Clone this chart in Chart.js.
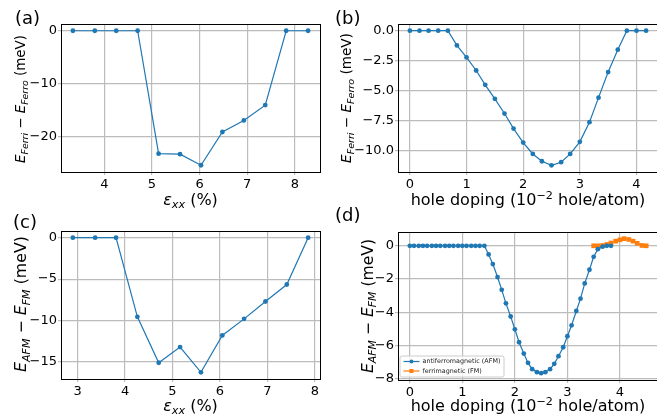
<!DOCTYPE html>
<html>
<head>
<meta charset="utf-8">
<script src="https://cdn.jsdelivr.net/npm/chart.js@4.4.1/dist/chart.umd.min.js"></script>
<style>
  html, body { margin: 0; padding: 0; background: #fff; width: 657px; height: 418px; overflow: hidden; }
  canvas { position: absolute; left: 0; top: 0; }
</style>
</head>
<body>
<canvas id="chartA" width="657" height="418"></canvas>
<canvas id="chartB" width="700" height="418"></canvas>
<canvas id="chartC" width="657" height="418"></canvas>
<canvas id="chartD" width="700" height="418"></canvas>
<script>
// (a) strain, ferri - ferro
const strainA = [3.34, 3.80, 4.25, 4.70, 5.14, 5.59, 6.03, 6.48, 6.93, 7.38, 7.82, 8.28];
const energyA = [0, 0, 0, 0, -23.3, -23.4, -25.5, -19.2, -17.0, -14.1, 0, 0];
const ticksAx = [4, 5, 6, 7, 8];
const ticksAy = [0, -10, -20];

// (b) hole doping, ferri - ferro
const dopingB = [0, 0.17, 0.33, 0.5, 0.67, 0.83, 1.0, 1.17, 1.33, 1.5, 1.67, 1.83, 2.0,
                 2.17, 2.33, 2.5, 2.67, 2.83, 3.0, 3.17, 3.33, 3.5, 3.67, 3.83, 4.0, 4.17];
const energyB = [0, 0, 0, 0, 0, -1.23, -2.24, -3.33, -4.53, -5.7, -6.93, -8.19, -9.36,
                 -10.31, -10.92, -11.26, -11.0, -10.31, -9.3, -7.65, -5.6, -3.46, -1.59, 0, 0, 0];
const ticksBx = [0, 1, 2, 3, 4];
const ticksBy = [0, -2.5, -5, -7.5, -10];

// (c) strain, AFM - FM
const strainC = [2.90, 3.37, 3.81, 4.26, 4.71, 5.16, 5.60, 6.05, 6.51, 6.96, 7.41, 7.86];
const energyC = [0, 0, 0, -9.55, -15.1, -13.2, -16.25, -11.8, -9.8, -7.7, -5.65, 0];
const ticksCx = [3, 4, 5, 6, 7, 8];
const ticksCy = [0, -5, -10, -15];

// (d) hole doping, AFM - FM and ferri
const dopingAFM = [0, 0.08, 0.17, 0.25, 0.33, 0.42, 0.5, 0.58, 0.67, 0.75, 0.83, 0.92, 1.0,
                   1.08, 1.17, 1.25, 1.33, 1.42, 1.5, 1.58, 1.67, 1.75, 1.83, 1.92, 2.0,
                   2.08, 2.17, 2.25, 2.33, 2.42, 2.5, 2.58, 2.67, 2.75, 2.83, 2.92, 3.0,
                   3.08, 3.17, 3.25, 3.33, 3.42, 3.5, 3.58, 3.67, 3.75, 3.83];
const energyAFM = [0, 0, 0, 0, 0, 0, 0, 0, 0, 0, 0, 0, 0, 0, 0, 0, 0, 0,
                   -0.52, -1.1, -1.88, -2.65, -3.46, -4.25, -5.02, -5.8, -6.48, -7.04, -7.42,
                   -7.6, -7.66, -7.6, -7.42, -7.1, -6.64, -6.1, -5.44, -4.78, -3.92, -3.18,
                   -2.26, -1.44, -0.66, -0.2, -0.05, 0, 0];
const dopingFM = [3.5, 3.58, 3.67, 3.75, 3.83, 3.92, 4.0, 4.08, 4.17, 4.25, 4.33, 4.42, 4.5];
const energyFM = [0, 0, 0.02, 0.08, 0.17, 0.28, 0.36, 0.43, 0.38, 0.28, 0.15, 0.02, 0];
const ticksDx = [0, 1, 2, 3, 4];
const ticksDy = [0, -2, -4, -6, -8];
const legendD = ['antiferromagnetic (AFM)', 'ferrimagnetic (FM)'];

const FONT = '"DejaVu Sans", sans-serif';
const BLUE = '#1f77b4';
const ORANGE = '#ff7f0e';
const GRID = '#bcbcbc';

function fmt(dec) {
    return v => (v < 0 ? '\u2212' : '') + Math.abs(v).toFixed(dec);
}

function pts(xs, ys) {
    return xs.map((x, i) => ({x: x, y: ys[i]}));
}

// draws text made of pieces (subscripts / superscripts), centred on x,y
function richText(ctx, segs, x, y, rotate, base) {
    const k = base / 16;
    const parts = segs.map(s => {
        const size = base * (s.s || 1);
        const font = (s.i ? 'italic ' : '') + size + 'px ' + FONT;
        ctx.font = font;
        return {t: s.t, font: font, w: ctx.measureText(s.t).width, dy: (s.dy || 0) * k};
    });
    const total = parts.reduce((a, p) => a + p.w, 0);
    ctx.save();
    ctx.translate(x, y);
    if (rotate) ctx.rotate(-Math.PI / 2);
    ctx.fillStyle = '#000';
    ctx.textBaseline = 'alphabetic';
    ctx.textAlign = 'left';
    let cx = -total / 2;
    parts.forEach(p => {
        ctx.font = p.font;
        ctx.fillText(p.t, cx, p.dy);
        cx += p.w;
    });
    ctx.restore();
}

const titleFerri = [{t: 'E', i: 1}, {t: 'Ferri', i: 1, s: 0.7, dy: 3.5}, {t: ' \u2212 '},
                    {t: 'E', i: 1}, {t: 'Ferro', i: 1, s: 0.7, dy: 3.5}, {t: ' (meV)'}];
const titleAFM = [{t: 'E', i: 1}, {t: 'AFM', i: 1, s: 0.7, dy: 3.5}, {t: ' \u2212 '},
                  {t: 'E', i: 1}, {t: 'FM', i: 1, s: 0.7, dy: 3.5}, {t: ' (meV)'}];
const titleStrain = [{t: '\u03b5', i: 1}, {t: 'xx', i: 1, s: 0.7, dy: 3.5}, {t: ' (%)'}];
const titleDoping = [{t: 'hole doping (10'}, {t: '\u22122', s: 0.7, dy: -6.5}, {t: ' hole/atom)'}];

const decorPlugin = {
    id: 'decor',
    afterDatasetsDraw(chart, args, opts) {
        const ctx = chart.ctx;
        const a = chart.chartArea;
        ctx.save();
        ctx.strokeStyle = '#000';
        ctx.lineWidth = 1;
        ctx.strokeRect(Math.round(a.left) + 0.5, Math.round(a.top) + 0.5,
                       Math.round(a.right - a.left), Math.round(a.bottom - a.top));
        ctx.restore();

        richText(ctx, opts.xTitle, opts.xTitlePos[0], opts.xTitlePos[1], false, 16);
        richText(ctx, opts.yTitle, opts.yTitlePos[0], opts.yTitlePos[1], true, opts.ySize);

        ctx.save();
        ctx.font = '18px ' + FONT;
        ctx.fillStyle = '#000';
        ctx.textBaseline = 'alphabetic';
        ctx.fillText(opts.label, opts.labelPos[0], opts.labelPos[1]);
        ctx.restore();

        if (opts.legend) {
            const lg = opts.legend;
            ctx.save();
            ctx.fillStyle = 'rgba(255,255,255,0.8)';
            ctx.strokeStyle = '#cccccc';
            ctx.lineWidth = 1;
            ctx.beginPath();
            ctx.roundRect(lg.x + 0.5, lg.y + 0.5, lg.w, lg.h, 2);
            ctx.fill();
            ctx.stroke();
            chart.data.datasets.forEach((ds, i) => {
                const yy = lg.y + 6 + i * 9.5;
                ctx.strokeStyle = ds.borderColor;
                ctx.lineWidth = 1.2;
                ctx.beginPath();
                ctx.moveTo(lg.x + 4, yy);
                ctx.lineTo(lg.x + 20, yy);
                ctx.stroke();
                ctx.fillStyle = ds.borderColor;
                if (ds.pointStyle === 'rect') {
                    ctx.fillRect(lg.x + 10, yy - 2, 4, 4);
                } else {
                    ctx.beginPath();
                    ctx.arc(lg.x + 12, yy, 2, 0, Math.PI * 2);
                    ctx.fill();
                }
                ctx.fillStyle = '#222';
                ctx.font = '6.4px ' + FONT;
                ctx.textBaseline = 'middle';
                ctx.fillText(ds.label, lg.x + 23, yy);
            });
            ctx.restore();
        }
    }
};

function axis(min, max, tickVals, dec, isX) {
    return {
        type: 'linear',
        min: min,
        max: max,
        afterBuildTicks: s => { s.ticks = tickVals.map(v => ({value: v})); },
        afterFit: s => { if (isX) s.height = 30; else s.width = 45; },
        ticks: {
            autoSkip: false,
            maxRotation: 0,
            padding: isX ? 2 : 1,
            color: '#000',
            font: {family: FONT, size: 13},
            callback: fmt(dec)
        },
        grid: {color: GRID, lineWidth: 1.2, tickLength: 3, tickColor: GRID},
        border: {display: false}
    };
}

function lineSet(label, xs, ys, color, shape) {
    return {
        label: label,
        data: pts(xs, ys),
        borderColor: color,
        backgroundColor: color,
        borderWidth: 1.2,
        pointStyle: shape,
        pointRadius: shape === 'rect' ? 3.3 : 2.4,
        pointBorderWidth: 0,
        tension: 0
    };
}

function makePanel(id, area, canvasW, xAxis, yAxis, datasets, decor) {
    return new Chart(document.getElementById(id), {
        type: 'line',
        data: {datasets: datasets},
        options: {
            responsive: false,
            animation: false,
            devicePixelRatio: 1,
            layout: {padding: {left: area.l - 45, top: area.t, right: canvasW - area.r, bottom: 418 - area.b - 30}},
            scales: {x: xAxis, y: yAxis},
            plugins: {legend: {display: false}, tooltip: {enabled: false}, decor: decor}
        },
        plugins: [decorPlugin]
    });
}

makePanel('chartA', {l: 61, r: 320, t: 24, b: 172}, 657,
    axis(3.09, 8.53, ticksAx, 0, true), axis(-26.78, 1.28, ticksAy, 0, false),
    [lineSet('a', strainA, energyA, BLUE, 'circle')],
    {xTitle: titleStrain, xTitlePos: [190.5, 204.5], yTitle: titleFerri, yTitlePos: [25, 99], ySize: 13.4,
     label: '(a)', labelPos: [15, 24.3]});

makePanel('chartB', {l: 398, r: 658, t: 24, b: 172}, 700,
    axis(-0.21, 4.38, ticksBx, 0, true), axis(-11.82, 0.56, ticksBy, 1, false),
    [lineSet('b', dopingB, energyB, BLUE, 'circle')],
    {xTitle: titleDoping, xTitlePos: [528, 205.2], yTitle: titleFerri, yTitlePos: [350.6, 98], ySize: 13.6,
     label: '(b)', labelPos: [335, 24.3]});

makePanel('chartC', {l: 61, r: 320, t: 231, b: 379}, 657,
    axis(2.65, 8.11, ticksCx, 0, true), axis(-17.06, 0.81, ticksCy, 0, false),
    [lineSet('c', strainC, energyC, BLUE, 'circle')],
    {xTitle: titleStrain, xTitlePos: [190.5, 410.6], yTitle: titleAFM, yTitlePos: [26.2, 304], ySize: 15.8,
     label: '(c)', labelPos: [13, 227.6]});

makePanel('chartD', {l: 398, r: 658, t: 232, b: 380}, 700,
    axis(-0.225, 4.725, ticksDx, 0, true), axis(-8.07, 0.83, ticksDy, 0, false),
    [lineSet(legendD[0], dopingAFM, energyAFM, BLUE, 'circle'),
     lineSet(legendD[1], dopingFM, energyFM, ORANGE, 'rect')],
    {xTitle: titleDoping, xTitlePos: [528, 411.2], yTitle: titleAFM, yTitlePos: [373, 306], ySize: 15.6,
     label: '(d)', labelPos: [335, 220.5],
     legend: {x: 399.5, y: 355.5, w: 104, h: 21}});
</script>
</body>
</html>
